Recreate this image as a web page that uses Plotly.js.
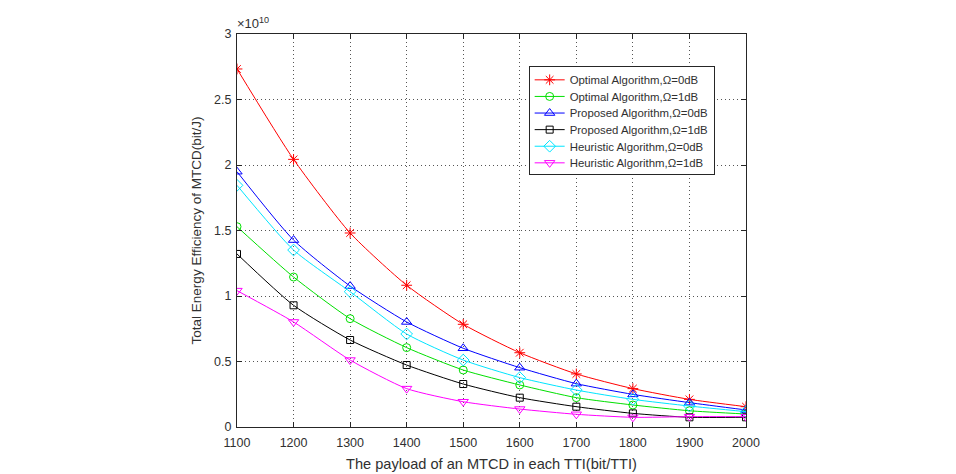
<!DOCTYPE html>
<html>
<head>
<meta charset="utf-8">
<script src="https://cdn.plot.ly/plotly-3.0.1.min.js"></script>
<style>
  html, body { margin: 0; padding: 0; background: #fff; }
  #topline { position: absolute; left: 0; top: 1px; width: 956px; height: 2px; background: #8a8a8a; }
  #chart { width: 956px; height: 474px; }
</style>
</head>
<body>
<div id="topline"></div>
<div id="chart"></div>
<script>
// Payload per MTCD in each TTI (bit/TTI)
const payload = [1100, 1200, 1300, 1400, 1500, 1600, 1700, 1800, 1900, 2000];

// Total energy efficiency, in units of 1e10 bit/J
const optimal0dB   = [2.733, 2.043, 1.481, 1.082, 0.784, 0.567, 0.405, 0.293, 0.211, 0.155];
const optimal1dB   = [1.529, 1.145, 0.827, 0.606, 0.435, 0.321, 0.224, 0.168, 0.124, 0.099];
const proposed0dB  = [1.949, 1.427, 1.076, 0.802, 0.601, 0.453, 0.331, 0.249, 0.186, 0.130];
const proposed1dB  = [1.321, 0.929, 0.664, 0.473, 0.328, 0.224, 0.155, 0.104, 0.074, 0.074];
const heuristic0dB = [1.845, 1.351, 1.033, 0.710, 0.511, 0.377, 0.282, 0.211, 0.160, 0.117];
const heuristic1dB = [1.041, 0.802, 0.511, 0.293, 0.193, 0.137, 0.097, 0.074, 0.079, 0.079];

const seriesNames = [
  'Optimal Algorithm,\u03A9=0dB',
  'Optimal Algorithm,\u03A9=1dB',
  'Proposed Algorithm,\u03A9=0dB',
  'Proposed Algorithm,\u03A9=1dB',
  'Heuristic Algorithm,\u03A9=0dB',
  'Heuristic Algorithm,\u03A9=1dB'
];
const yTickVals = [0, 0.5, 1, 1.5, 2, 2.5, 3];
const yTickText = ['0', '0.5', '1', '1.5', '2', '2.5', '3'];

const styles = [
  { color: '#ff0000', symbol: 'asterisk-open', size: 9 },
  { color: '#00e000', symbol: 'circle-open', size: 8 },
  { color: '#0000ff', symbol: 'triangle-up-open', size: 9 },
  { color: '#000000', symbol: 'square-open', size: 7 },
  { color: '#00e5ff', symbol: 'diamond-open', size: 9 },
  { color: '#ff00ff', symbol: 'triangle-down-open', size: 9 }
];
const values = [optimal0dB, optimal1dB, proposed0dB, proposed1dB, heuristic0dB, heuristic1dB];

const traces = values.map((v, i) => ({
  x: payload,
  y: v,
  name: seriesNames[i],
  type: 'scatter',
  mode: 'lines+markers',
  line: { color: styles[i].color, width: 1, shape: 'spline', smoothing: 0.6 },
  marker: {
    symbol: styles[i].symbol,
    size: styles[i].size,
    color: styles[i].color,
    line: { color: styles[i].color, width: 1 }
  }
}));

const FAMILY = 'Liberation Sans, Arial, sans-serif';
const TEXT = '#303030';
const tickFont = { family: FAMILY, size: 12.5, color: TEXT };

const commonAxis = {
  ticks: 'inside',
  ticklen: 5,
  tickcolor: '#262626',
  showline: true,
  linecolor: '#262626',
  linewidth: 1,
  mirror: 'ticks',
  showgrid: true,
  gridcolor: '#555555',
  griddash: '1px,3px',
  gridwidth: 1,
  zeroline: false,
  tickfont: tickFont
};

const layout = {
  width: 956,
  height: 474,
  margin: { l: 237, r: 210, t: 34, b: 47 },
  paper_bgcolor: '#ffffff',
  plot_bgcolor: '#ffffff',
  showlegend: true,
  font: tickFont,
  xaxis: Object.assign({}, commonAxis, {
    range: [1100, 2000],
    tickvals: payload,
    ticklabelstandoff: 4,
    title: { text: 'The payload of an MTCD in each TTI(bit/TTI)', font: { family: FAMILY, size: 14.6, color: TEXT }, standoff: 9 }
  }),
  yaxis: Object.assign({}, commonAxis, {
    range: [0, 3],
    tickvals: yTickVals,
    ticktext: yTickText,
    ticklabelstandoff: 2,
    title: { text: 'Total Energy Efficiency of MTCD(bit/J)', font: { family: FAMILY, size: 13.5, color: TEXT }, standoff: 9 }
  }),
  legend: {
    x: 0.573,
    y: 0.919,
    xanchor: 'left',
    yanchor: 'top',
    bgcolor: '#ffffff',
    bordercolor: '#262626',
    borderwidth: 1,
    font: { family: FAMILY, size: 11.4, color: TEXT },
    tracegroupgap: 0,
    itemwidth: 30
  },
  annotations: [{
    xref: 'paper', yref: 'paper',
    x: 0, y: 1,
    xanchor: 'left', yanchor: 'bottom',
    xshift: -2,
    yshift: 1,
    text: '\u00D710<sup>10</sup>',
    showarrow: false,
    font: { family: FAMILY, size: 13, color: TEXT }
  }]
};

// Tighten legend row spacing to a compact 16.6px pitch
function compactLegend(gd) {
  const items = gd.querySelectorAll('.legend .traces');
  if (items.length < 2) return;
  const parse = el => {
    const m = /translate\(\s*([-\d.]+)[ ,]+([-\d.]+)\s*\)/.exec(el.getAttribute('transform') || '');
    return m ? [parseFloat(m[1]), parseFloat(m[2])] : [0, 0];
  };
  const [, y0] = parse(items[0]);
  const [, y1] = parse(items[1]);
  const oldStep = y1 - y0;
  const step = 16.6;
  const top = y0 - 1.5;
  items.forEach((el, i) => {
    const [x] = parse(el);
    el.setAttribute('transform', `translate(${x},${top + i * step})`);
  });
  const bg = gd.querySelector('.legend .bg');
  if (bg) {
    const h = parseFloat(bg.getAttribute('height'));
    bg.setAttribute('height', h - items.length * (oldStep - step) - 2);
  }
}

Plotly.newPlot('chart', traces, layout, { displayModeBar: false, staticPlot: true })
  .then(gd => compactLegend(gd));
</script>
</body>
</html>
